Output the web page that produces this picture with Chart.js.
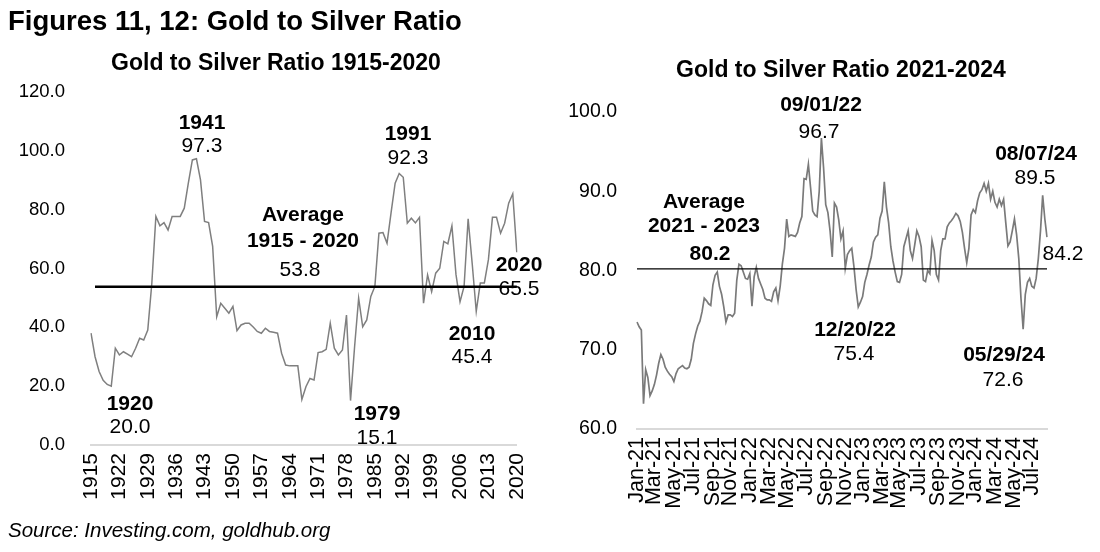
<!DOCTYPE html>
<html>
<head>
<meta charset="utf-8">
<script src="https://cdn.jsdelivr.net/npm/chart.js@4/dist/chart.umd.min.js"></script>
<style>
  html, body { margin:0; padding:0; background:#fff; }
  body { width:1100px; height:552px; position:relative; overflow:hidden; font-family:"Liberation Sans", Arial, sans-serif; color:#000; }
  canvas { position:absolute; top:0; }
  .t { position:absolute; white-space:nowrap; line-height:1; }
  .c { transform:translateX(-50%); text-align:center; }
  .b { font-weight:bold; }
  .ann { font-size:21px; }
</style>
</head>
<body>
<canvas id="left" width="550" height="552" style="left:0"></canvas>
<canvas id="right" width="550" height="552" style="left:550px"></canvas>

<div class="t b" style="left:8px;top:7px;font-size:27.5px;">Figures 11, 12: Gold to Silver Ratio</div>
<div class="t b c" style="left:276px;top:51px;font-size:23px;">Gold to Silver Ratio 1915-2020</div>
<div class="t b c" style="left:841px;top:58px;font-size:23px;">Gold to Silver Ratio 2021-2024</div>
<div class="t" style="left:8px;top:520px;font-size:20.5px;font-style:italic;">Source: Investing.com, goldhub.org</div>

<!-- left annotations -->
<div class="t c ann b" style="left:202px;top:111px;">1941</div>
<div class="t c ann" style="left:202px;top:134px;">97.3</div>
<div class="t c ann b" style="left:130px;top:392px;">1920</div>
<div class="t c ann" style="left:130px;top:415px;">20.0</div>
<div class="t c ann b" style="left:303px;top:203px;">Average</div>
<div class="t c ann b" style="left:303px;top:229px;">1915 - 2020</div>
<div class="t c ann" style="left:300px;top:258px;">53.8</div>
<div class="t c ann b" style="left:408px;top:122px;">1991</div>
<div class="t c ann" style="left:408px;top:146px;">92.3</div>
<div class="t c ann b" style="left:377px;top:402px;">1979</div>
<div class="t c ann" style="left:377px;top:426px;">15.1</div>
<div class="t c ann b" style="left:472px;top:322px;">2010</div>
<div class="t c ann" style="left:472px;top:345px;">45.4</div>
<div class="t c ann b" style="left:519px;top:253px;">2020</div>
<div class="t c ann" style="left:519px;top:277px;">65.5</div>

<!-- right annotations -->
<div class="t c ann b" style="left:704px;top:190px;">Average</div>
<div class="t c ann b" style="left:704px;top:214px;">2021 - 2023</div>
<div class="t c ann b" style="left:710px;top:242px;">80.2</div>
<div class="t c ann b" style="left:821px;top:93px;">09/01/22</div>
<div class="t c ann" style="left:819px;top:120px;">96.7</div>
<div class="t c ann b" style="left:855px;top:318px;">12/20/22</div>
<div class="t c ann" style="left:854px;top:342px;">75.4</div>
<div class="t c ann b" style="left:1036px;top:142px;">08/07/24</div>
<div class="t c ann" style="left:1035px;top:166px;">89.5</div>
<div class="t c ann" style="left:1063px;top:242px;">84.2</div>
<div class="t c ann b" style="left:1004px;top:343px;">05/29/24</div>
<div class="t c ann" style="left:1003px;top:368px;">72.6</div>

<script>
// ---------- Data: Figure 11 (annual, 1915-2020) ----------
const firstYear = 1915;
const annualRatio = [
  38.0, 30.0, 25.0, 22.0, 20.6, 20.0, 32.9, 30.6, 31.7, 30.9,   // 1915-1924
  30.0, 32.9, 36.3, 35.7, 39.1, 55.0, 77.7, 74.5, 75.6, 73.1,   // 1925-1934
  77.7, 77.7, 77.7, 80.5, 89.0, 96.9, 97.3, 90.1, 76.0, 75.6,   // 1935-1944
  67.5, 43.6, 48.2, 46.5, 44.8, 47.1, 38.9, 40.8, 41.4, 41.4,   // 1945-1954
  40.1, 38.6, 38.0, 39.7, 38.6, 38.3, 38.0, 31.2, 27.2, 26.9,   // 1955-1964
  26.9, 26.9, 15.5, 19.8, 22.6, 22.1, 31.4, 31.7, 32.5, 41.4,   // 1965-1974
  32.9, 30.6, 32.3, 44.2, 15.1, 33.4, 49.9, 40.2, 42.5, 50.5,   // 1975-1984
  53.9, 72.0, 72.2, 68.6, 79.0, 89.0, 92.3, 91.0, 75.4, 77.1,   // 1985-1994
  75.5, 77.4, 48.2, 57.8, 52.1, 58.4, 60.1, 69.2, 68.4, 74.5,   // 1995-2004
  58.0, 48.7, 53.9, 76.9, 61.7, 45.4, 55.1, 55.1, 63.0, 77.4,   // 2005-2014
  77.4, 72.0, 75.4, 82.2, 85.4, 65.5                            // 2015-2020
];
const annualAverage = 53.8;
const yearLabelStep = 7;
const years = annualRatio.map((_, i) => String(firstYear + i));

// ---------- Data: Figure 12 (weekly, Jan 2021 - Aug 2024) ----------
const firstWeek = new Date(Date.UTC(2021, 0, 4));
const weeklyRatio = [
  73.5, 72.9, 72.5, 63.2, 67.5, 66.5, 64.2, 64.8, 65.6, 66.8,
  68.3, 69.4, 68.8, 67.8, 67.3, 66.9, 66.6, 66.0, 67.0, 67.6,
  67.8, 68.0, 67.7, 67.6, 67.8, 68.8, 70.8, 72.0, 73.0, 73.6,
  74.8, 76.5, 76.2, 75.8, 75.6, 78.2, 79.4, 79.8, 78.0, 77.0,
  75.4, 73.5, 74.4, 74.4, 74.2, 74.6, 78.8, 80.8, 80.6, 79.8,
  79.0, 78.9, 79.6, 75.5, 79.2, 80.4, 79.0, 78.3, 77.6, 76.5,
  76.3, 76.3, 76.1, 77.3, 77.8, 76.2, 78.0, 80.8, 82.8, 86.5,
  84.3, 84.5, 84.4, 84.3, 84.8, 86.0, 86.8, 91.6, 91.5, 93.4,
  90.5, 87.5, 87.0, 86.8, 90.0, 96.7, 93.0, 88.3, 87.3, 85.0,
  81.7, 88.5, 88.0, 86.4, 84.0, 85.0, 80.3, 82.0, 82.5, 82.8,
  80.5, 77.6, 75.4, 76.0, 76.7, 78.5, 79.5, 80.7, 81.7, 83.6,
  84.2, 84.5, 86.6, 87.5, 91.2, 88.0, 86.0, 83.0, 81.2, 79.8,
  78.6, 78.5, 79.5, 83.0, 84.0, 85.0, 82.5, 81.5, 83.2, 85.0,
  84.3, 83.0, 78.8, 78.6, 80.0, 79.6, 83.8, 82.5, 79.5, 78.8,
  82.5, 84.0, 84.0, 85.5, 86.0, 86.3, 86.7, 87.2, 86.9, 86.2,
  84.8, 82.8, 81.0, 82.8, 87.0, 87.7, 87.3, 88.8, 89.8, 90.2,
  91.0, 90.0, 91.0, 89.0, 90.0, 88.6, 88.0, 89.0, 88.2, 89.0,
  86.0, 83.1, 83.6, 85.0, 86.5, 84.5, 81.5, 76.5, 72.6, 77.0,
  78.5, 79.0, 78.0, 77.8, 79.0, 81.5, 85.0, 89.5, 86.5, 84.2
];
const weeklyAverage = 80.2;
const monthNames = ['Jan','Feb','Mar','Apr','May','Jun','Jul','Aug','Sep','Oct','Nov','Dec'];
const weekDates = weeklyRatio.map((_, i) => new Date(firstWeek.getTime() + i * 7 * 86400000));
const weekLabels = weekDates.map(d => monthNames[d.getUTCMonth()] + '-' + String(d.getUTCFullYear()).slice(2));

// ---------- Shared styling ----------
const FONT = '"Liberation Sans", Arial, sans-serif';
const avgLinePlugin = {
  id: 'avgLine',
  afterDatasetsDraw(chart, args, opts) {
    const { ctx, chartArea } = chart;
    const y = chart.scales.y.getPixelForValue(opts.value);
    ctx.save();
    ctx.strokeStyle = '#000';
    ctx.lineWidth = opts.width;
    ctx.beginPath();
    ctx.moveTo(chartArea.left + (opts.inset || 0), y);
    ctx.lineTo(chartArea.right, y);
    ctx.stroke();
    ctx.restore();
  }
};

function makeOptions(cfg) {
  return {
    responsive: false,
    animation: false,
    devicePixelRatio: 1,
    events: [],
    layout: { padding: cfg.padding },
    plugins: {
      legend: { display: false },
      tooltip: { enabled: false },
      avgLine: { value: cfg.avg, width: cfg.avgWidth, inset: cfg.avgInset }
    },
    scales: {
      x: {
        type: 'category',
        offset: false,
        grid: { display: false, drawTicks: false },
        border: { display: true, color: '#d9d9d9', width: 2 },
        ticks: {
          autoSkip: false, maxRotation: 90, minRotation: 90, padding: cfg.xPad,
          color: '#000', font: { family: FONT, size: cfg.xFont },
          callback: cfg.xCallback
        },
        afterFit: s => { s.height = cfg.xHeight; }
      },
      y: {
        min: cfg.yMin, max: cfg.yMax,
        grid: { display: false, drawTicks: false },
        border: { display: false },
        ticks: {
          stepSize: cfg.yStep, padding: cfg.yPad, color: '#000',
          font: { family: FONT, size: cfg.yFont },
          callback: v => Number(v).toFixed(1)
        },
        afterFit: s => { s.width = cfg.yWidth; }
      }
    }
  };
}

new Chart(document.getElementById('left'), {
  type: 'line',
  data: {
    labels: years,
    datasets: [{
      data: annualRatio, borderColor: '#7f7f7f', borderWidth: 1.5,
      pointRadius: 0, tension: 0, fill: false
    }]
  },
  options: makeOptions({
    padding: { left: 0, right: 25, top: 92, bottom: 37 },
    avg: annualAverage, avgWidth: 2.5, avgInset: 4,
    xPad: 8, xFont: 21, xHeight: 70,
    xCallback: function (v, i) { return i % yearLabelStep === 0 ? years[i] : null; },
    yMin: 0, yMax: 120, yStep: 20, yPad: 26, yFont: 18.5, yWidth: 91
  }),
  plugins: [avgLinePlugin]
});

new Chart(document.getElementById('right'), {
  type: 'line',
  data: {
    labels: weekLabels,
    datasets: [{
      data: weeklyRatio, borderColor: '#7a7a7a', borderWidth: 1.7,
      pointRadius: 0, tension: 0, fill: false
    }]
  },
  options: makeOptions({
    padding: { left: 0, right: 53, top: 112, bottom: 33 },
    avg: weeklyAverage, avgWidth: 1.2, avgInset: 0,
    xPad: 8, xFont: 21.5, xHeight: 90,
    xCallback: function (v, i) {
      const d = weekDates[i];
      const prev = i > 0 ? weekDates[i - 1] : null;
      const newMonth = !prev || prev.getUTCMonth() !== d.getUTCMonth();
      return (newMonth && d.getUTCMonth() % 2 === 0) ? weekLabels[i] : null;
    },
    yMin: 60, yMax: 100, yStep: 10, yPad: 20, yFont: 19.5, yWidth: 87
  }),
  plugins: [avgLinePlugin]
});
</script>
</body>
</html>
